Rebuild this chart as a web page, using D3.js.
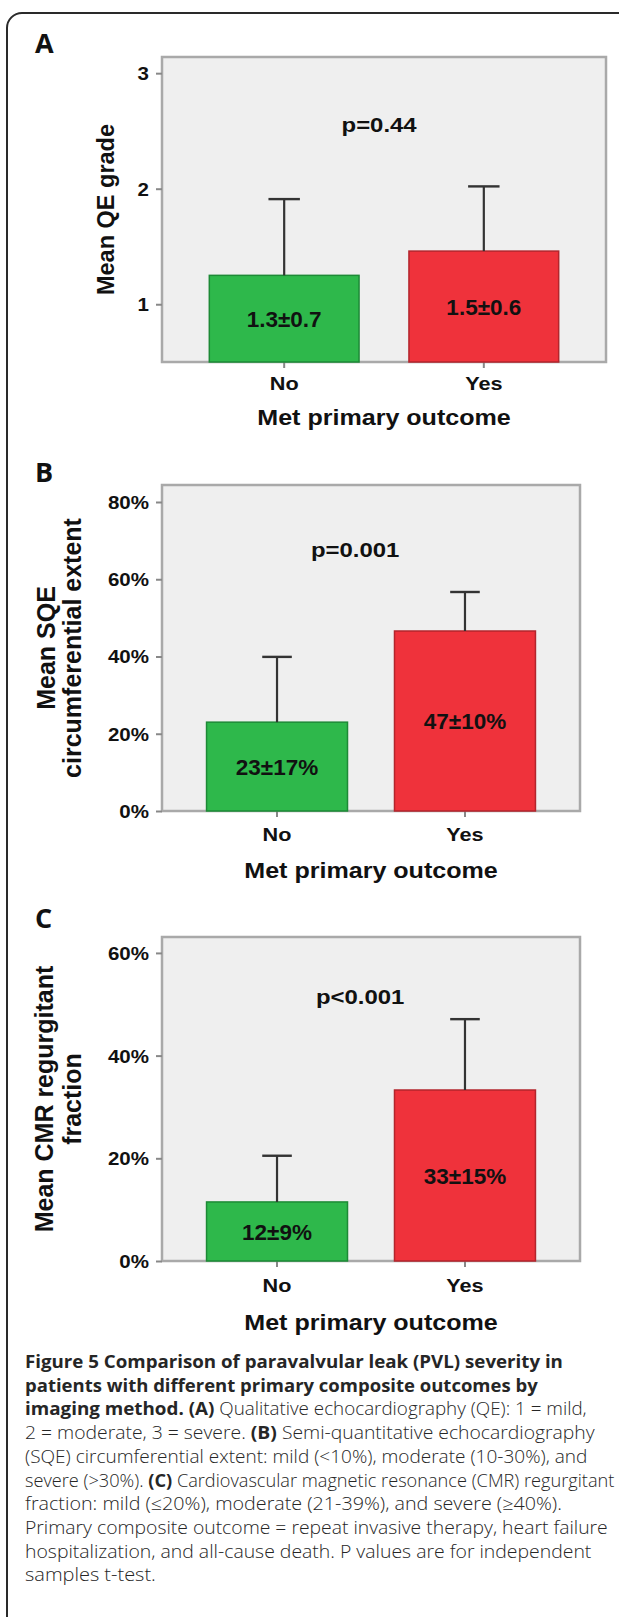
<!DOCTYPE html>
<html><head><meta charset="utf-8">
<script src="https://cdn.jsdelivr.net/npm/d3@7"></script>
<style>body{margin:0;background:#fff} svg{display:block}</style>
</head><body><svg id="c" width="619" height="1617"></svg>
<script>
// ---------- data ----------
const categories = ["No", "Yes"];

const qeMeans  = [1.25, 1.46];
const qeUpper  = [1.91, 2.02];
const qeLabels = ["1.3±0.7", "1.5±0.6"];
const qeTicks  = [1, 2, 3];

const sqeMeans  = [0.230, 0.466];
const sqeUpper  = [0.399, 0.567];
const sqeLabels = ["23±17%", "47±10%"];
const sqeTicks  = [0, 0.2, 0.4, 0.6, 0.8];

const cmrMeans  = [0.115, 0.333];
const cmrUpper  = [0.205, 0.471];
const cmrLabels = ["12±9%", "33±15%"];
const cmrTicks  = [0, 0.2, 0.4, 0.6];

const pValues = ["p=0.44", "p=0.001", "p<0.001"];
const pPositions = [2.49, 0.658, 0.50];   // in data units of each panel
const panelLetters = ["A", "B", "C"];
const yTitles = [["Mean QE grade"], ["Mean SQE", "circumferential extent"], ["Mean CMR regurgitant", "fraction"]];
const xTitle = "Met primary outcome";
const barColors = ["#2eb84b", "#ef323b"];
const barStrokes = ["#1d8a36", "#b3252c"];

const captionLines = [
  [["Figure 5 Comparison of paravalvular leak (PVL) severity in", 1]],
  [["patients with different primary composite outcomes by", 1]],
  [["imaging method. ", 1], ["(A)", 1], [" Qualitative echocardiography (QE): 1 = mild,", 0]],
  [["2 = moderate, 3 = severe. ", 0], ["(B)", 1], [" Semi-quantitative echocardiography", 0]],
  [["(SQE) circumferential extent: mild (<10%), moderate (10-30%), and", 0]],
  [["severe (>30%). ", 0], ["(C)", 1], [" Cardiovascular magnetic resonance (CMR) regurgitant", 0]],
  [["fraction: mild (\u226420%), moderate (21-39%), and severe (\u226540%).", 0]],
  [["Primary composite outcome = repeat invasive therapy, heart failure", 0]],
  [["hospitalization, and all-cause death. P values are for independent", 0]],
  [["samples t-test.", 0]]
];
const captionRightEdges = [563, 538, 587, 595, 588, 615, 562, 608, 592, 156];

// ---------- layout ----------
const panels = [
  {means: qeMeans, upper: qeUpper, labels: qeLabels, ticks: qeTicks, domain: [0.5, 3.14], fmt: d3.format("d"),
   x0: 162, x1: 606, y0: 57, y1: 362, pfx: 0.489, letterY: 53, ytx: [114], yts: 23.5, catOff: 28, titleOff: 63},
  {means: sqeMeans, upper: sqeUpper, labels: sqeLabels, ticks: sqeTicks, domain: [0, 0.844], fmt: d3.format(".0%"),
   x0: 162, x1: 580, y0: 485, y1: 811, pfx: 0.462, letterY: 482, ytx: [55, 81], yts: 25, catOff: 30, titleOff: 67},
  {means: cmrMeans, upper: cmrUpper, labels: cmrLabels, ticks: cmrTicks, domain: [0, 0.631], fmt: d3.format(".0%"),
   x0: 162, x1: 580, y0: 937, y1: 1261, pfx: 0.474, letterY: 928, ytx: [53, 81], yts: 25, catOff: 31, titleOff: 69}
];

const S = 1.14;  // horizontal stretch of the original figure's lettering
const FONT = "'Liberation Sans', Arial, sans-serif";
const svg = d3.select("#c");
svg.append("rect").attr("width", 619).attr("height", 1617).attr("fill", "#fff");
svg.append("rect").attr("x", 7).attr("y", 13).attr("width", 720).attr("height", 1700).attr("rx", 15)
  .attr("fill", "none").attr("stroke", "#2a2a2a").attr("stroke-width", 2);

function sText(g, x, y, str, size, sx) {
  return g.append("text").attr("transform", `translate(${x},${y}) scale(${sx || S},1)`)
    .attr("text-anchor", "middle").attr("font-family", FONT).attr("font-weight", "bold")
    .attr("font-size", size).attr("fill", "#111").text(str);
}

panels.forEach((p, i) => {
  const x = d3.scaleBand().domain(categories).range([p.x0, p.x1]).paddingInner(0.25).paddingOuter(0.237);
  const y = d3.scaleLinear().domain(p.domain).range([p.y1, p.y0]);
  const g = svg.append("g");

  g.append("rect").attr("x", p.x0).attr("y", p.y0).attr("width", p.x1 - p.x0).attr("height", p.y1 - p.y0)
    .attr("fill", "#efefef").attr("stroke", "#a9a9a9").attr("stroke-width", 2.5);

  const ay = g.append("g").attr("transform", `translate(${p.x0},0)`)
    .call(d3.axisLeft(y).tickValues(p.ticks).tickFormat(p.fmt).tickSize(6).tickPadding(7));
  ay.select(".domain").remove();
  ay.selectAll("line").attr("stroke", "#888").attr("stroke-width", 2);
  ay.selectAll("text").attr("x", -13 / S).attr("transform", `scale(${S},1)`).attr("dy", "0.36em")
    .attr("font-size", 18).attr("font-weight", "bold").attr("font-family", FONT).attr("fill", "#111");

  const ax = g.append("g").attr("transform", `translate(0,${p.y1})`)
    .call(d3.axisBottom(x).tickSize(6));
  ax.select(".domain").remove();
  ax.selectAll("line").attr("stroke", "#888").attr("stroke-width", 2);
  ax.selectAll("text").attr("y", p.catOff).attr("dy", "0").attr("transform", `scale(${S},1)`)
    .attr("font-size", 19).attr("font-weight", "bold").attr("font-family", FONT).attr("fill", "#111");

  // bars
  g.selectAll(".bar").data(categories).join("rect")
    .attr("x", c => x(c)).attr("y", (c, j) => y(p.means[j]))
    .attr("width", x.bandwidth()).attr("height", (c, j) => p.y1 - y(p.means[j]))
    .attr("fill", (c, j) => barColors[j]).attr("stroke", (c, j) => barStrokes[j]).attr("stroke-width", 1.5);

  // error bars
  const capW = x.bandwidth() * 0.21;
  categories.forEach((c, j) => {
    const cx = x(c) + x.bandwidth() / 2;
    g.append("line").attr("x1", cx).attr("x2", cx).attr("y1", y(p.means[j])).attr("y2", y(p.upper[j]))
      .attr("stroke", "#333").attr("stroke-width", 2.2);
    g.append("line").attr("x1", cx - capW / 2).attr("x2", cx + capW / 2).attr("y1", y(p.upper[j])).attr("y2", y(p.upper[j]))
      .attr("stroke", "#333").attr("stroke-width", 2.4);
    sText(g, cx, (y(p.means[j]) + p.y1) / 2, p.labels[j], 22.5, 1.0).attr("dy", "0.36em");
  });

  // p value
  sText(g, p.x0 + p.pfx * (p.x1 - p.x0), y(pPositions[i]), pValues[i], 21);
  // x title
  sText(g, (p.x0 + p.x1) / 2, p.y1 + p.titleOff, xTitle, 22);
  // y title
  yTitles[i].forEach((t, k) => {
    g.append("text").attr("transform", `translate(${p.ytx[k]},${(p.y0 + p.y1) / 2}) rotate(-90)`)
      .attr("text-anchor", "middle").attr("font-family", FONT).attr("font-weight", "bold")
      .attr("font-size", p.yts).attr("fill", "#111").text(t);
  });
  // panel letter
  g.append("text").attr("x", 35).attr("y", p.letterY).attr("font-family", "'Open Sans', sans-serif")
    .attr("font-weight", "bold").attr("font-size", 27).attr("fill", "#111").text(panelLetters[i]);
});

// caption
const cap = svg.append("g");
captionLines.forEach((line, i) => {
  const t = cap.append("text").attr("x", 0).attr("y", 0)
    .attr("font-family", "'Open Sans', sans-serif").attr("font-size", 17.5).attr("fill", "#262626");
  line.forEach(([s, b]) => t.append("tspan").attr("font-weight", b ? 700 : 300).text(s));
  const natural = t.node().getComputedTextLength();
  const target = captionRightEdges[i] - 25;
  t.attr("transform", `translate(25,${1368 + i * 23.7}) scale(${target / natural},1)`);
});
</script></body></html>
